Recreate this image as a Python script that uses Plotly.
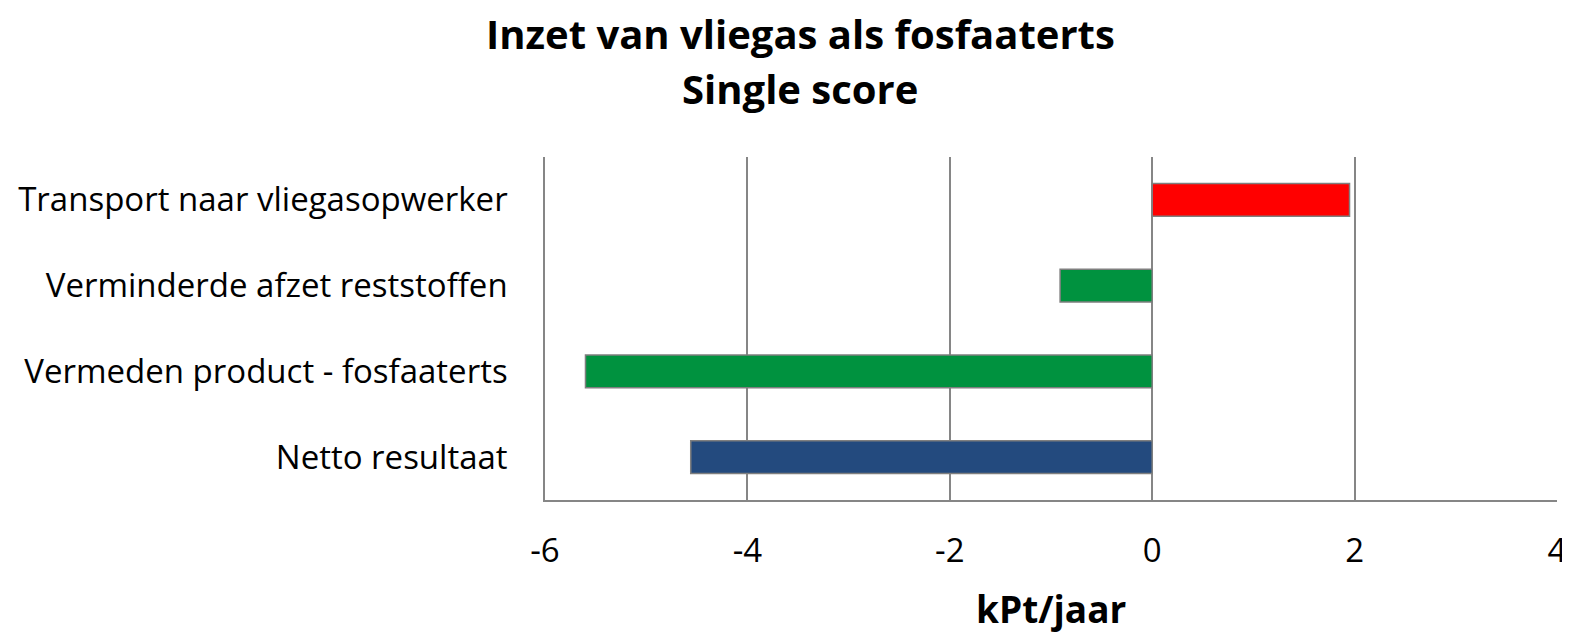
import plotly.graph_objects as go

categories = ["Transport naar vliegasopwerker", "Verminderde afzet reststoffen",
              "Vermeden product - fosfaaterts", "Netto resultaat"]
values = [1.95, -0.91, -5.6, -4.56]
colors = ["#FF0000", "#00923F", "#00923F", "#234A7E"]
x_ticks = [-6, -4, -2, 0, 2, 4]
title_lines = ["Inzet van vliegas als fosfaaterts", "Single score"]
x_title = "kPt/jaar"

fig = go.Figure(go.Bar(
    y=categories, x=values, orientation="h",
    marker=dict(color=colors, line=dict(color="#7F7F7F", width=1.5)),
    width=0.38,
))

font_family = "Open Sans, Noto Sans, sans-serif"
OFF = 8  # page body margin
W, H = 1570 - OFF, 632 - OFF
L, T, R, B = 545 - OFF, 157 - OFF, 13, 132
PW, PH = W - L - R, H - T - B
fig.update_layout(
    width=W, height=H,
    paper_bgcolor="white", plot_bgcolor="white",
    margin=dict(l=L, r=R, t=T, b=B, autoexpand=False),
    font=dict(family=font_family, color="black"),
    showlegend=False,
)
for txt, yc in zip(title_lines, [34, 88]):
    fig.add_annotation(text=f"<b>{txt}</b>", xref="paper", yref="paper",
                       x=(800 - OFF - L) / PW, y=1 + (T - (yc - OFF)) / PH,
                       xanchor="center", yanchor="middle", showarrow=False,
                       font=dict(size=40, color="black"))
fig.add_annotation(text=f"<b>{x_title}</b>", xref="paper", yref="paper",
                   x=0.5, y=-((608 - OFF) - (H - B)) / PH,
                   xanchor="center", yanchor="middle", showarrow=False,
                   font=dict(size=37, color="black"))
fig.update_xaxes(
    range=[-6, 4], tickvals=x_ticks, ticktext=[str(v) for v in x_ticks],
    showgrid=True, gridcolor="#868686", gridwidth=1.5,
    zeroline=False, showline=True, linecolor="#868686", linewidth=1.5,
    tickfont=dict(size=33), ticks="", ticklabelstandoff=21, automargin=False,
)
fig.update_yaxes(
    autorange="reversed", showgrid=False, zeroline=False,
    showline=True, linecolor="#868686", linewidth=1.5,
    tickfont=dict(size=33), ticks="", ticklabelstandoff=29, automargin=False,
)
fig.write_html("out.html")
